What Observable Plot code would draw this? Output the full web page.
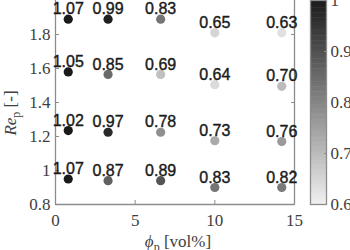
<!DOCTYPE html>
<html><head><meta charset="utf-8">
<script src="https://cdn.jsdelivr.net/npm/d3@7"></script>
<script src="https://cdn.jsdelivr.net/npm/@observablehq/plot@0.6"></script>
<style>
body{margin:0;background:#fff;}
#wrap{position:relative;width:350px;height:250px;overflow:hidden;background:#fff;}
#wrap svg{position:absolute;left:0;top:0;}
</style></head><body><div id="wrap"></div>
<script>
// Data
const phiCols = [0.8, 3.3, 6.6, 10, 14.2];
const repCol1 = [1.89, 1.58, 1.235, 0.95];
const repCol2 = [1.89, 1.565, 1.225, 0.94];
const repCol3 = [1.89, 1.565, 1.225, 0.94];
const repCol4 = [1.81, 1.505, 1.175, 0.90];
const repCol5 = [1.81, 1.495, 1.17, 0.90];
const valCol1 = [1.07, 1.05, 1.02, 1.07];
const valCol2 = [0.99, 0.85, 0.97, 0.87];
const valCol3 = [0.83, 0.69, 0.78, 0.89];
const valCol4 = [0.65, 0.64, 0.73, 0.83];
const valCol5 = [0.63, 0.70, 0.76, 0.82];
const xTicks = [0, 5, 10, 15];
const yTicks = [0.8, 1, 1.2, 1.4, 1.6, 1.8];
const cTicks = [0.6, 0.7, 0.8, 0.9, 1];
const colorDomain = [0.6, 1.0];
const colorRange = ["#f0f0f0", "#1a1a1a"];

const repCols = [repCol1, repCol2, repCol3, repCol4, repCol5];
const valCols = [valCol1, valCol2, valCol3, valCol4, valCol5];
const points = [];
phiCols.forEach((p, i) => repCols[i].forEach((r, j) => points.push({phi: p, rep: r, val: valCols[i][j]})));

const axisGray = "#8c8c8c";
const textGray = "#404040";
const colorScale = {type: "linear", domain: colorDomain, range: colorRange, clamp: true};
const fmt = d => String(d);

const main = Plot.plot({
  width: 350, height: 250,
  marginLeft: 55, marginRight: 56, marginTop: 0, marginBottom: 46,
  x: {domain: [0, 15], label: null},
  y: {domain: [0.8, 2.0], label: null},
  color: colorScale,
  style: {background: "transparent", fontFamily: "Liberation Serif", fontSize: "17px", color: textGray, overflow: "visible"},
  marks: [
    Plot.ruleX([0, 15], {stroke: axisGray, strokeWidth: 1.3}),
    Plot.ruleY([0.8], {stroke: axisGray, strokeWidth: 1.3}),
    Plot.axisX(xTicks, {tickSize: 0, tickPadding: 9, tickFormat: fmt, fill: textGray, label: null}),
    Plot.axisX(xTicks, {tickSize: -4, text: null, stroke: axisGray, label: null}),
    Plot.axisY(yTicks, {tickSize: 0, tickPadding: 5, tickFormat: fmt, fill: textGray, label: null}),
    Plot.axisY(yTicks, {tickSize: -4, text: null, stroke: axisGray, label: null}),
    Plot.axisY(yTicks, {anchor: "right", tickSize: -4, text: null, stroke: axisGray, label: null}),
    Plot.dot(points, {x: "phi", y: "rep", r: 4.6, fill: "val"}),
    Plot.text(points, {x: "phi", y: "rep", text: d => d.val.toFixed(2), dy: -10,
      fontFamily: "Liberation Sans", fontSize: 16, fill: "#1a1a1a", stroke: "#1a1a1a", strokeWidth: 0.4})
  ]
});

// color bar
const step = 0.005;
const bands = d3.range(0.6, 1.0, step);
const bar = Plot.plot({
  width: 350, height: 250,
  marginLeft: 310, marginRight: 24, marginTop: 0, marginBottom: 46,
  x: {domain: [0, 1], axis: null},
  y: {domain: colorDomain, label: null},
  color: colorScale,
  style: {background: "transparent", fontFamily: "Liberation Serif", fontSize: "17px", color: textGray},
  marks: [
    Plot.rect(bands, {x1: 0, x2: 1, y1: d => d, y2: d => Math.min(1.0, d + step + 0.001), fill: d => d + step / 2}),
    Plot.axisY(cTicks, {anchor: "right", tickSize: 0, tickPadding: 4, tickFormat: fmt, fill: textGray, label: null}),
    Plot.axisY(cTicks, {anchor: "right", tickSize: -3, text: null, stroke: axisGray, label: null}),
    Plot.frame({stroke: axisGray, strokeWidth: 1.3})
  ]
});

const wrap = document.getElementById("wrap");
wrap.appendChild(main);
wrap.appendChild(bar);

// axis titles with italic / subscript parts
const svg = d3.select(main);
const yl = svg.append("text")
  .attr("transform", "translate(16,113) rotate(-90)")
  .attr("text-anchor", "middle")
  .attr("font-family", "Liberation Serif").attr("font-size", 17).attr("fill", textGray);
yl.append("tspan").attr("font-style", "italic").text("Re");
yl.append("tspan").attr("font-size", 12).attr("dy", 4).text("p");
yl.append("tspan").attr("dy", -4).text(" [-]");

const xl = svg.append("text")
  .attr("x", 178).attr("y", 247)
  .attr("text-anchor", "middle")
  .attr("font-family", "Liberation Serif").attr("font-size", 17).attr("fill", textGray);
xl.append("tspan").attr("font-style", "italic").text("ϕ");
xl.append("tspan").attr("font-size", 12).attr("dy", 4).text("p");
xl.append("tspan").attr("dy", -4).text(" [vol%]");
</script>
</body></html>
